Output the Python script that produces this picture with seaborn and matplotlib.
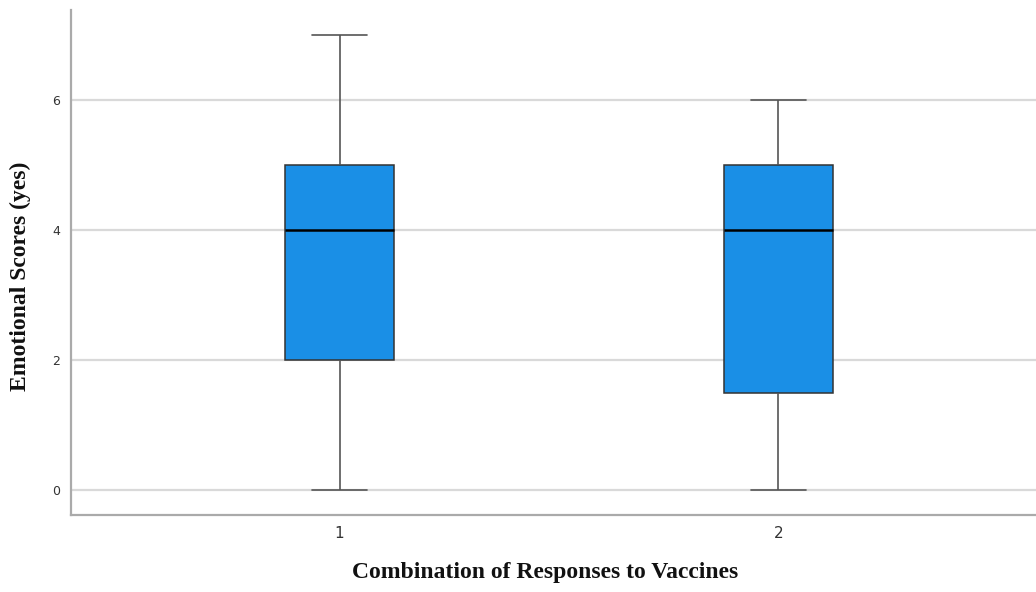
import numpy as np
import pandas as pd
import matplotlib
matplotlib.use("Agg")
import matplotlib.pyplot as plt
import seaborn as sns

# Raw scores chosen so quartiles/whiskers match the reference
groups = ["1", "2"]
scores_g1 = [0, 2, 2, 4, 5, 5, 7]   # min 0, Q1 2, median 4, Q3 5, max 7
scores_g2 = [0, 1, 2, 4, 5, 5, 6]   # min 0, Q1 1.5, median 4, Q3 5, max 6
yticks = [0, 2, 4, 6]

df = pd.DataFrame({
    "group": ["1"] * len(scores_g1) + ["2"] * len(scores_g2),
    "score": scores_g1 + scores_g2,
})

sns.set_theme(style="white")
fig = plt.figure(figsize=(10.36, 5.92), dpi=100)
ax = fig.add_axes([0.0685, 0.130, 0.9315, 0.853])

for y in yticks:
    ax.axhline(y, color="#d9d9d9", lw=1.6, zorder=0)

sns.boxplot(
    data=df, x="group", y="score", order=groups, ax=ax,
    width=0.25, color="#1a8fe6", saturation=1, whis=1.5,
    linewidth=1.1, linecolor="#555555",
    boxprops=dict(edgecolor="#333333", facecolor="#1a8fe6", zorder=2),
    medianprops=dict(color="black", linewidth=1.8),
    whiskerprops=dict(color="#555555", linewidth=1.2),
    capprops=dict(color="#555555", linewidth=1.2),
    showfliers=False,
)

ax.set_xlim(-0.612, 1.587)
ax.set_ylim(-0.385, 7.385)
ax.set_yticks(yticks)
ax.set_yticklabels([str(v) for v in yticks])
ax.tick_params(axis="both", length=0, colors="#333333")
for lab in ax.get_yticklabels():
    lab.set_fontsize(9)
    lab.set_family("DejaVu Sans")
for lab in ax.get_xticklabels():
    lab.set_fontsize(11)
    lab.set_family("DejaVu Sans")
ax.tick_params(axis="y", pad=8)
ax.tick_params(axis="x", pad=8)

for side in ["top", "right"]:
    ax.spines[side].set_visible(False)
for side in ["left", "bottom"]:
    ax.spines[side].set_color("#aaaaaa")
    ax.spines[side].set_linewidth(1.6)

ax.set_xlabel("Combination of Responses to Vaccines", family="Liberation Serif",
              fontweight="bold", fontsize=17, color="#111111")
ax.set_ylabel("Emotional Scores (yes)", family="Liberation Serif",
              fontweight="bold", fontsize=17, color="#111111")
ax.xaxis.set_label_coords(0.491, -0.093)
ax.yaxis.set_label_coords(-0.041, 0.473)

fig.savefig("out.png", dpi=100)
